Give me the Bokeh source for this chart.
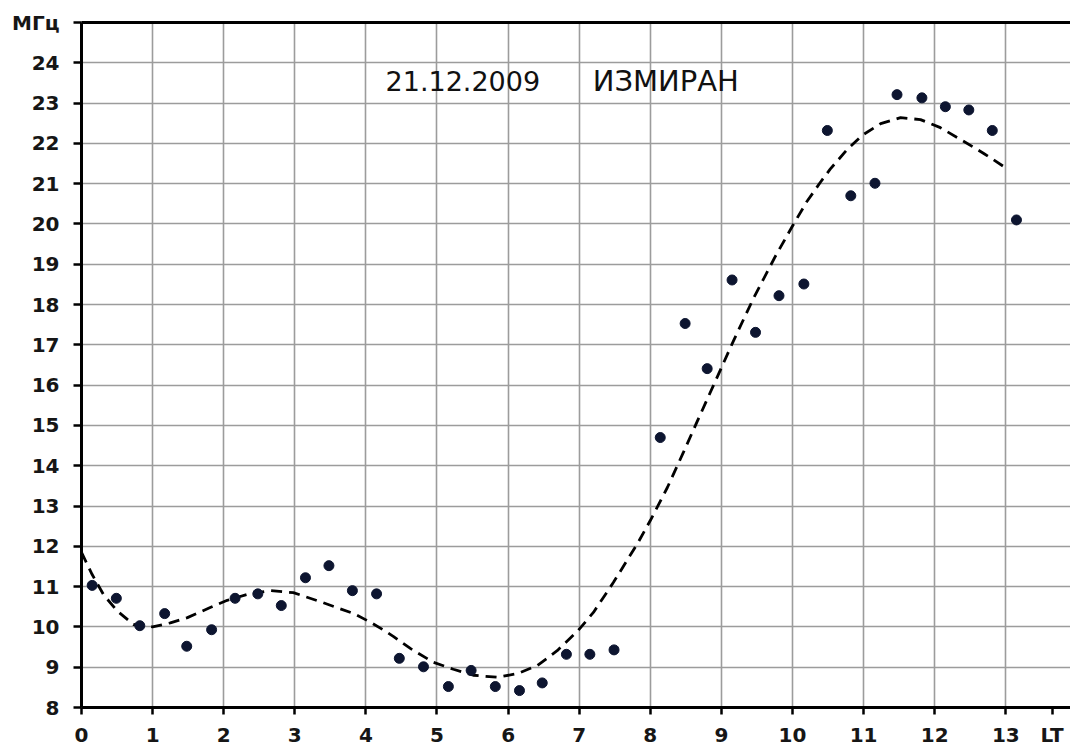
from bokeh.plotting import figure
from bokeh.models import FixedTicker, LinearAxis, Label, Range1d
from bokeh.embed import file_html
from bokeh.resources import INLINE

# Observed values (LT hours, MHz)
obs_lt = [0.15, 0.49, 0.82, 1.17, 1.48, 1.83, 2.16, 2.48, 2.81, 3.15, 3.48, 3.81, 4.15,
          4.47, 4.81, 5.16, 5.48, 5.82, 6.16, 6.48, 6.82, 7.15, 7.49,
          8.14, 8.49, 8.80, 9.15, 9.48, 9.81, 10.16, 10.49, 10.82, 11.16, 11.47,
          11.82, 12.15, 12.48, 12.81, 13.15]
obs_mhz = [11.03, 10.71, 10.03, 10.33, 9.52, 9.93, 10.71, 10.82, 10.53, 11.22, 11.52, 10.90, 10.82,
           9.22, 9.01, 8.52, 8.92, 8.52, 8.42, 8.61, 9.32, 9.32, 9.43,
           14.70, 17.53, 16.41, 18.61, 17.31, 18.22, 18.51, 22.32, 20.70, 21.01, 23.21,
           23.13, 22.91, 22.83, 22.32, 20.10]

# Fitted (dashed) curve
fit_lt = [0.0, 0.15, 0.31, 0.5, 0.73, 1.0, 1.25, 1.49, 1.81, 2.05, 2.38, 2.66, 2.98, 3.4, 3.83,
          4.06, 4.25, 4.39, 4.63, 4.95, 5.23, 5.51, 5.85, 6.13, 6.41, 6.69, 6.98, 7.2, 7.48,
          7.82, 8.0, 8.24, 8.47, 8.66, 8.89, 9.17, 9.45, 9.76, 10.0, 10.2, 10.39, 10.53, 10.77,
          10.98, 11.24, 11.52, 11.8, 12.08, 12.4, 12.69, 13.02]
fit_mhz = [11.85, 11.3, 10.8, 10.4, 10.06, 10.0, 10.1, 10.23, 10.48, 10.66, 10.83, 10.9, 10.85, 10.6, 10.33,
           10.12, 9.92, 9.76, 9.46, 9.12, 8.95, 8.8, 8.75, 8.84, 9.04, 9.41, 9.9, 10.36, 11.1,
           12.07, 12.64, 13.46, 14.35, 15.1, 16.0, 17.1, 18.15, 19.2, 19.95, 20.55, 21.03, 21.36, 21.85,
           22.2, 22.49, 22.64, 22.59, 22.39, 22.06, 21.75, 21.37]

x_ticks = list(range(0, 14))
y_ticks = list(range(8, 26))
y_unit = "МГц"
x_unit = "LT"
x_unit_pos = 13.65
title_date = "21.12.2009"
title_org = "ИЗМИРАН"

p = figure(width=1070, height=749, output_backend="svg", toolbar_location=None,
           x_range=Range1d(0, 13.91), y_range=Range1d(8, 25),
           min_border_left=81, min_border_right=0, min_border_top=22, min_border_bottom=42,
           background_fill_color="white", border_fill_color="white")
p.outline_line_color = None

grid_col = "#9c9c9c"
p.xaxis.ticker = FixedTicker(ticks=x_ticks + [x_unit_pos])
p.yaxis.ticker = FixedTicker(ticks=y_ticks)
p.xgrid.ticker = FixedTicker(ticks=x_ticks)
p.xgrid.grid_line_color = grid_col
p.ygrid.grid_line_color = grid_col
p.xgrid.grid_line_width = 1.6
p.ygrid.grid_line_width = 1.6

for ax in (p.xaxis[0], p.yaxis[0]):
    ax.axis_line_color = "black"
    ax.axis_line_width = 3
    ax.major_tick_line_color = "black"
    ax.major_tick_line_width = 2.5
    ax.major_tick_in = 0
    ax.minor_tick_line_color = None
    ax.major_label_text_font = "DejaVu Sans"
    ax.major_label_text_font_style = "bold"
    ax.major_label_text_font_size = "20px"
    ax.major_label_text_color = "#161616"

p.xaxis.major_tick_out = 7
p.xaxis.major_label_standoff = 8
p.xaxis.major_label_overrides = {x_unit_pos: x_unit}
p.yaxis.major_tick_out = 8
p.yaxis.major_label_standoff = 14
p.yaxis.major_label_overrides = {25: y_unit}

top = LinearAxis(ticker=FixedTicker(ticks=[]), axis_line_color="black", axis_line_width=3,
                 major_tick_line_color=None, minor_tick_line_color=None)
p.add_layout(top, "above")

p.line(fit_lt, fit_mhz, line_color="black", line_width=2.8, line_dash="11 7")
p.scatter(obs_lt, obs_mhz, marker="circle", size=10, fill_color="#0d1530", line_color="#0d1530")

p.add_layout(Label(x=4.276, y=23.56, text=title_date, text_font="DejaVu Sans",
                   text_font_size="27px", text_color="#111111", text_baseline="alphabetic"))
p.add_layout(Label(x=7.19, y=23.56, text=title_org, text_font="DejaVu Sans",
                   text_font_size="29px", text_color="#111111", text_baseline="alphabetic"))

open("out.html", "w").write(file_html(p, INLINE))
